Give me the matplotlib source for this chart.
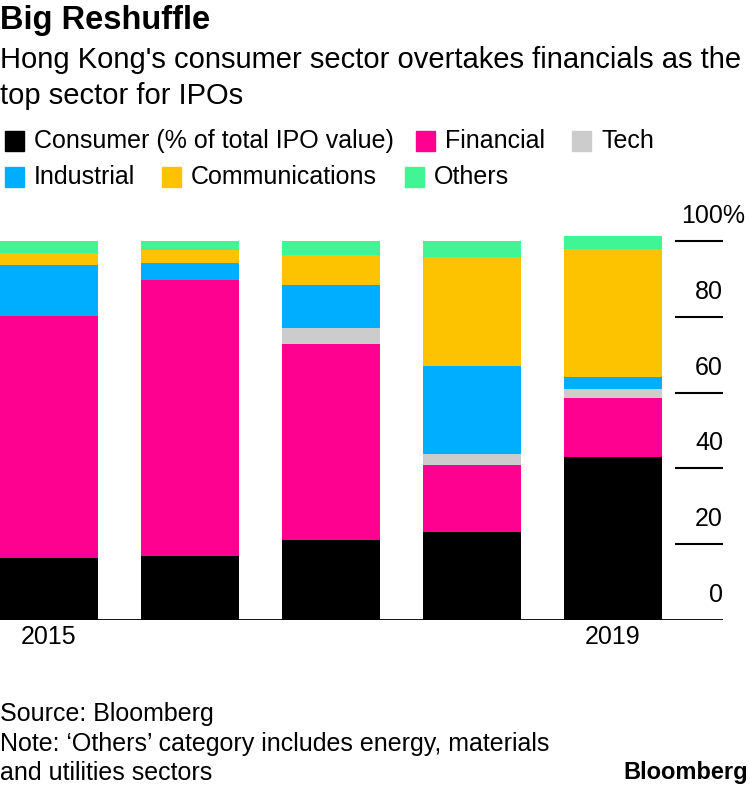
import numpy as np
import matplotlib.pyplot as plt
from matplotlib.patches import Rectangle

plt.rcParams['font.family'] = ['Liberation Sans', 'DejaVu Sans']

# share of total IPO value, %
years = ['2015', '2016', '2017', '2018', '2019']
consumer = [16.4, 17.0, 21.2, 23.2, 43.1]
financial = [63.8, 72.7, 51.7, 17.7, 15.6]
tech = [0.0, 0.0, 4.2, 2.8, 2.2]
industrial = [13.5, 4.6, 11.3, 23.4, 3.1]
communications = [3.2, 3.2, 7.9, 28.7, 34.0]
others = [3.1, 2.6, 3.6, 4.2, 3.2]

series = [
    ('Consumer (% of total IPO value)', consumer, '#000000'),
    ('Financial', financial, '#ff0190'),
    ('Tech', tech, '#cccccc'),
    ('Industrial', industrial, '#00aeff'),
    ('Communications', communications, '#fdc300'),
    ('Others', others, '#42f594'),
]
y_ticks = [0, 20, 40, 60, 80, 100]
x_labels = {0: '2015', 4: '2019'}

W, H = 750, 788
fig = plt.figure(figsize=(W / 100, H / 100), dpi=100)

px_per = 3.79          # pixels per percentage point
y0_px, top_px = 620, 230
ax = fig.add_axes([0, 1 - y0_px / H, 723 / W, (y0_px - top_px) / H])
bw = 0.695
x = np.arange(len(years))
bottom = np.zeros(len(years))
for name, vals, col in series:
    ax.bar(x, vals, bw, bottom=bottom, color=col, edgecolor='none')
    bottom += np.array(vals)

ax.set_xlim(-bw / 2, -bw / 2 + 723 / 141)
ax.set_ylim(0, (y0_px - top_px) / px_per)
for s in ax.spines.values():
    s.set_visible(False)
ax.set_xticks([])
ax.set_yticks([])

xr = ax.get_xlim()[1]
ax.axhline(0, color='black', lw=2, zorder=5)
ax.hlines(y_ticks[1:], xr - 48 / 141, xr, color='black', lw=1.5, clip_on=False)
off = 25 / px_per
fs = 18
for v in y_ticks[:-1]:
    ax.text(xr, v + off, str(v), ha='right', va='center', fontsize=fs)
ax.text(xr - 42 / 141, 100 + off, '100%', ha='left', va='center', fontsize=fs)
for i, lab in x_labels.items():
    ax.text(i, -17 / px_per, lab, ha='center', va='center', fontsize=fs)

# titles
fig.text(0.0, 1 - 20 / H, 'Big Reshuffle', fontsize=23.5, weight='bold', va='center')
fig.text(0.0, 1 - 60 / H, "Hong Kong's consumer sector overtakes financials as the",
         fontsize=21, va='center')
fig.text(0.0, 1 - 96 / H, 'top sector for IPOs', fontsize=21, va='center')

# legend
leg_pos = [(5, 141), (416, 141), (572, 141), (5, 177), (162, 177), (405, 177)]
for (name, vals, col), (lx, ly) in zip(series, leg_pos):
    fig.patches.append(Rectangle((lx / W, 1 - (ly + 10) / H), 19 / W, 20 / H,
                                 transform=fig.transFigure, color=col))
    fig.text((lx + 29) / W, 1 - ly / H, name, fontsize=fs, va='center')

# footer
fig.text(0.0, 1 - 714 / H, 'Source: Bloomberg', fontsize=18, va='center')
fig.text(0.0, 1 - 744 / H, 'Note: \u2018Others\u2019 category includes energy, materials',
         fontsize=18, va='center')
fig.text(0.0, 1 - 773 / H, 'and utilities sectors', fontsize=18, va='center')
fig.text(748 / W, 1 - 773 / H, 'Bloomberg', fontsize=17, weight='bold',
         ha='right', va='center')

fig.savefig('out.png', dpi=100)
